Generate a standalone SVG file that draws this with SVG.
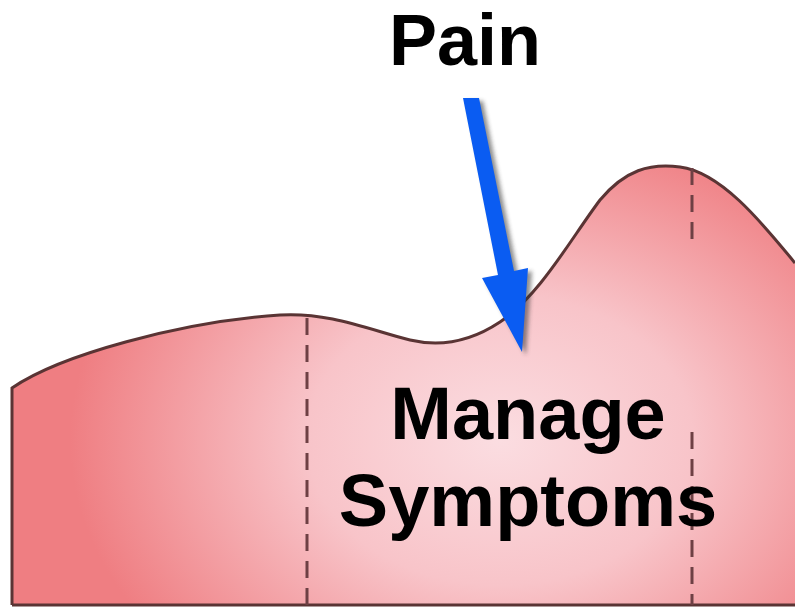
<svg xmlns="http://www.w3.org/2000/svg" width="795" height="610" viewBox="0 0 795 610">
<style>
.lbl{font-family:"Liberation Sans",Arial,sans-serif;font-weight:bold;fill:#000;text-anchor:middle}
.big{font-size:74px}
.dash{stroke:#6e4044;stroke-width:3;stroke-dasharray:17 10;fill:none}
.outline{stroke:#5a3434;stroke-width:3;fill:none}
</style>
<defs>
<radialGradient id="fillg" cx="500" cy="440" r="430" gradientUnits="userSpaceOnUse" gradientTransform="translate(500 440) scale(1 0.75) translate(-500 -440)">
<stop offset="0" stop-color="#fbdde1"/>
<stop offset="0.45" stop-color="#f8c4c9"/>
<stop offset="1" stop-color="#ef7e82"/>
</radialGradient>
<filter id="shadow" x="-20%" y="-10%" width="150%" height="130%">
<feGaussianBlur stdDeviation="2"/>
</filter>
</defs>
<rect width="795" height="610" fill="#ffffff"/>
<g id="shape">
<path d="M12,388 C60,355 180,322 280,315 C330,312 370,330 410,340 C440,347 470,342 500,322 C540,295 570,240 600,200 C625,170 650,163 680,167 C720,172 760,220 795,263 L795,605 L12,605 Z" fill="url(#fillg)"/>
<path class="outline" d="M12,605 L12,388 C60,355 180,322 280,315 C330,312 370,330 410,340 C440,347 470,342 500,322 C540,295 570,240 600,200 C625,170 650,163 680,167 C720,172 760,220 795,263"/>
<line class="outline" x1="12" y1="605" x2="795" y2="605"/>
</g>
<g id="dividers">
<line class="dash" x1="307" y1="318" x2="307" y2="605"/>
<line class="dash" x1="692" y1="168" x2="692" y2="240"/>
<line class="dash" x1="692" y1="432" x2="692" y2="605"/>
</g>
<g id="connectors">
<polygon points="467,101 483,101 518,274 532,271 526,355 486,281 502,278" fill="#333" opacity="0.55" filter="url(#shadow)"/>
<polygon points="463,98 479,98 514,271 528,268 522,352 482,278 498,275" fill="#0a5cf2"/>
</g>
<g id="node-pain">
<text class="lbl" x="465" y="65" font-size="72">Pain</text>
</g>
<g id="node-manage">
<text class="lbl big" x="528" y="439">Manage</text>
<text class="lbl big" x="528" y="526">Symptoms</text>
</g>
</svg>
